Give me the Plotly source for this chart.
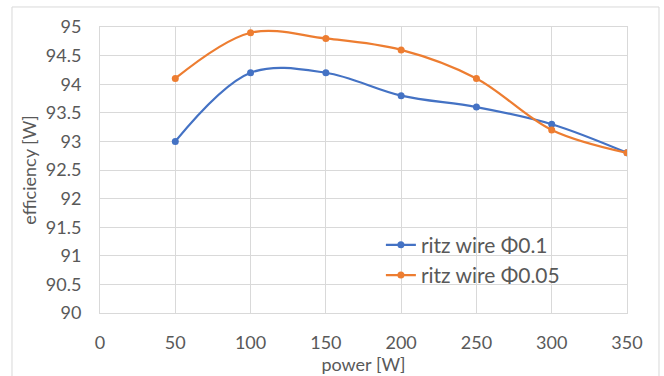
import plotly.graph_objects as go

power = [50, 100, 150, 200, 250, 300, 350]
eff_01 = [93.0, 94.2, 94.2, 93.8, 93.6, 93.3, 92.8]
eff_005 = [94.1, 94.9, 94.8, 94.6, 94.1, 93.2, 92.8]
names = ["ritz wire Φ0.1", "ritz wire Φ0.05"]
colors = ["#4472C4", "#ED7D31"]

FONT = "Lato"
TXT = "#595959"
GRID = "#D9D9D9"

fig = go.Figure()
for ys, nm, c in zip([eff_01, eff_005], names, colors):
    fig.add_trace(go.Scatter(
        x=power, y=ys, name=nm, mode="lines+markers",
        line=dict(color=c, width=2.25, shape="spline", smoothing=1.0),
        marker=dict(color=c, size=7),
    ))

fig.update_layout(
    width=664, height=376,
    margin=dict(l=100, r=37, t=27, b=63),
    paper_bgcolor="white", plot_bgcolor="white",
    font=dict(family=FONT, color=TXT, size=18),
    showlegend=True,
    legend=dict(x=0.533, y=0.309, xanchor="left", yanchor="top",
                bgcolor="rgba(0,0,0,0)", font=dict(size=21, color=TXT),
                itemwidth=30, tracegroupgap=0),
    xaxis=dict(range=[0, 350], dtick=50, tick0=0, showgrid=True, gridcolor=GRID,
               showline=True, mirror=True, linecolor=GRID, zeroline=False,
               ticks="", ticklabelstandoff=13, tickfont=dict(size=18),
               title=dict(text="power [W]", font=dict(size=18, color=TXT), standoff=0)),
    yaxis=dict(range=[90, 95], dtick=0.5, tick0=90, showgrid=True, gridcolor=GRID,
               showline=True, mirror=True, linecolor=GRID, zeroline=False,
               ticks="", ticklabelstandoff=14, tickfont=dict(size=18),
               title=dict(text="efficiency [W]", font=dict(size=18, color=TXT), standoff=4)),
    shapes=[dict(type="rect", xref="paper", yref="paper",
                 x0=-0.167, x1=1.0607, y0=-0.25, y1=1.07,
                 line=dict(color=GRID, width=1), layer="below")],
)

fig.write_html("out.html")
